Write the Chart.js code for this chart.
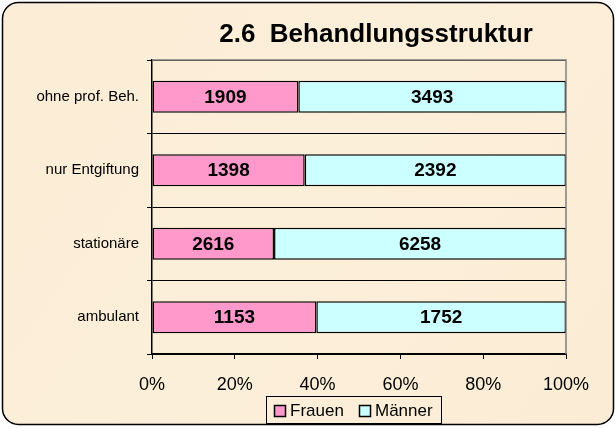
<!DOCTYPE html>
<html><head><meta charset="utf-8">
<script src="https://cdn.jsdelivr.net/npm/chart.js@4"></script>
<style>
html,body{margin:0;padding:0;background:#ffffff;}
#wrap{position:relative;width:616px;height:428px;}
canvas{display:block;}
</style></head>
<body><div id="wrap"><canvas id="c" width="616" height="428"></canvas></div>
<script>
const categories = ["ohne prof. Beh.", "nur Entgiftung", "stationäre", "ambulant"];
const frauen = [1909, 1398, 2616, 1153];
const maenner = [3493, 2392, 6258, 1752];
const seriesNames = ["Frauen", "Männer"];
const seriesColors = ["#ff99cc", "#ccffff"];
const tickLabels = ["0%", "20%", "40%", "60%", "80%", "100%"];
const titleText = "2.6  Behandlungsstruktur";

const totals = frauen.map((f, i) => f + maenner[i]);
const pctF = frauen.map((f, i) => f / totals[i] * 100);
const pctM = maenner.map((m, i) => m / totals[i] * 100);

const FONT = '"Liberation Sans", Arial, sans-serif';

const bgPlugin = {
  id: 'bg',
  beforeDraw(chart) {
    const ctx = chart.ctx;
    ctx.save();
    const x = 2.5, y = 2.5, w = 611, h = 422, r = 16;
    ctx.beginPath();
    ctx.moveTo(x + r, y);
    ctx.arcTo(x + w, y, x + w, y + h, r);
    ctx.arcTo(x + w, y + h, x, y + h, r);
    ctx.arcTo(x, y + h, x, y, r);
    ctx.arcTo(x, y, x + w, y, r);
    ctx.closePath();
    const g = ctx.createLinearGradient(0, 0, 616, 428);
    g.addColorStop(0, '#fbedd6');
    g.addColorStop(0.5, '#fcefd9');
    g.addColorStop(1, '#fbecd5');
    ctx.fillStyle = g;
    ctx.fill();
    ctx.lineWidth = 1.5;
    ctx.strokeStyle = '#000';
    ctx.stroke();
    ctx.fillStyle = '#000';
    ctx.font = 'bold 26px ' + FONT;
    ctx.textAlign = 'center';
    ctx.textBaseline = 'middle';
    ctx.fillText(titleText, 376, 35);
    ctx.restore();
  },
  afterDatasetsDraw(chart) {
    const ctx = chart.ctx;
    const a = chart.chartArea;
    ctx.save();
    ctx.strokeStyle = '#808080';
    ctx.lineWidth = 1.5;
    ctx.beginPath();
    ctx.moveTo(a.left, a.top);
    ctx.lineTo(a.right, a.top);
    ctx.lineTo(a.right, a.bottom);
    ctx.stroke();
    ctx.fillStyle = '#000';
    ctx.font = 'bold 19px ' + FONT;
    ctx.textAlign = 'center';
    ctx.textBaseline = 'middle';
    const raw = [frauen, maenner];
    chart.data.datasets.forEach((ds, di) => {
      const meta = chart.getDatasetMeta(di);
      meta.data.forEach((bar, i) => {
        const cx = (bar.x + bar.base) / 2;
        ctx.fillText(String(raw[di][i]), cx, bar.y + 1);
      });
    });
    ctx.restore();
  },
  afterDraw(chart) {
    const ctx = chart.ctx;
    ctx.save();
    ctx.strokeStyle = '#000';
    ctx.lineWidth = 1;
    ctx.strokeRect(266.5, 396.5, 175, 27);
    const items = [
      { sx: 274, tx: 290 },
      { sx: 359, tx: 375 }
    ];
    ctx.font = '17px ' + FONT;
    ctx.textAlign = 'left';
    ctx.textBaseline = 'middle';
    items.forEach((it, i) => {
      ctx.fillStyle = seriesColors[i];
      ctx.fillRect(it.sx + 0.5, 405.5, 11, 11);
      ctx.strokeStyle = '#000';
      ctx.lineWidth = 1.5;
      ctx.strokeRect(it.sx + 0.5, 405.5, 11, 11);
      ctx.fillStyle = '#000';
      ctx.fillText(seriesNames[i], it.tx, 411);
    });
    ctx.restore();
  }
};

new Chart(document.getElementById('c'), {
  type: 'bar',
  data: {
    labels: categories,
    datasets: [
      { label: seriesNames[0], data: pctF, backgroundColor: seriesColors[0], borderColor: '#000', borderWidth: 1.5, borderSkipped: false, barPercentage: 0.437, categoryPercentage: 1 },
      { label: seriesNames[1], data: pctM, backgroundColor: seriesColors[1], borderColor: '#000', borderWidth: 1.5, borderSkipped: false, barPercentage: 0.437, categoryPercentage: 1 }
    ]
  },
  options: {
    indexAxis: 'y',
    responsive: false,
    animation: false,
    events: [],
    layout: { padding: { top: 60, right: 50, left: 0, bottom: 30 } },
    scales: {
      x: {
        stacked: true, min: 0, max: 100,
        ticks: { stepSize: 20, color: '#000', padding: 15,
          font: { family: FONT, size: 18 },
          callback: (v, i) => tickLabels[i] },
        grid: { display: true, drawOnChartArea: false, drawTicks: true, tickLength: 5, color: '#000', lineWidth: 1 },
        border: { display: true, color: '#000', width: 1.5 },
        afterFit(s) { s.height = 44; }
      },
      y: {
        stacked: true,
        ticks: { color: '#000', padding: 8,
          font: { family: '"Liberation Sans Narrow", "Arial Narrow", "Liberation Sans", sans-serif', size: 15 } },
        grid: { display: true, offset: true, drawOnChartArea: true, tickLength: 5, color: '#000', lineWidth: 1 },
        border: { display: true, color: '#000', width: 1.5 },
        afterFit(s) { s.width = 152; }
      }
    },
    plugins: {
      title: { display: false },
      tooltip: { enabled: false },
      legend: { display: false }
    }
  },
  plugins: [bgPlugin]
});
</script></body></html>
